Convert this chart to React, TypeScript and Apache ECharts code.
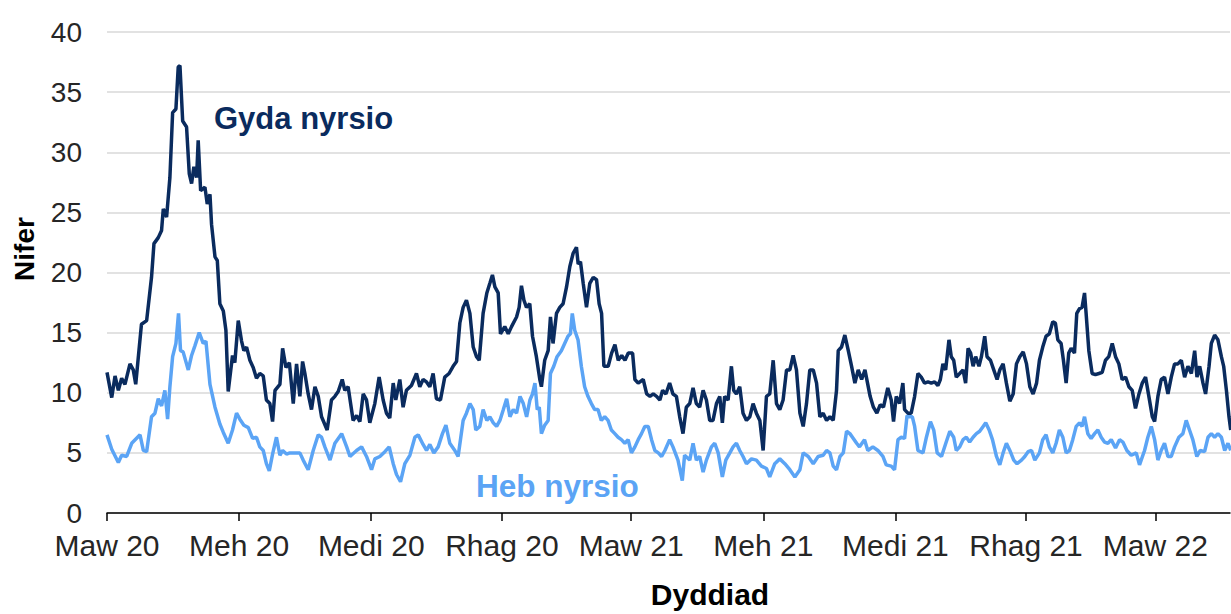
import React, { useEffect, useRef } from "react";
import * as echarts from "echarts";

// Days counted from 1 March 2020 (Maw 20)
const tickDays = [0, 92, 184, 275, 365, 457, 549, 640, 730];
const tickLabels = ["Maw 20", "Meh 20", "Medi 20", "Rhag 20", "Maw 21", "Meh 21", "Medi 21", "Rhag 21", "Maw 22"];
const yTicks = [0, 5, 10, 15, 20, 25, 30, 35, 40];

const gydaDays = [
  0, 3.3, 5.6, 7.9, 10.2, 12.5, 16, 18.3, 20, 24, 27.6, 31, 32.7, 35.7, 38, 39.2, 41.5, 43.8, 45.7, 48, 49.6, 50.8, 52.7, 55.4, 57.3, 58.9, 60.5, 62.4, 63.5, 65.2, 68.2, 69.8, 71.7, 72.8, 75.2, 76.8, 78.6, 81, 82.8, 84.4, 87.4, 89, 91.4, 93.7, 95.3, 97.2, 99.5, 101.8, 104.1, 106.4, 108.8, 111, 113.4, 115.3, 117, 120.4, 122.3, 124.6, 127,
  129.7, 132, 134.3, 136.2, 137.8, 140.1, 142.4, 144.8, 147.1, 149.4, 153.3, 156.3, 158.7, 161, 163.8, 165.6, 167.9, 171.4, 173.8, 176.1, 178.4, 180.7, 183, 186.5, 189.5, 192.3, 194.6, 196.9, 199.3, 201.1, 203.9, 206.2, 208.5, 212, 215.5, 217.8, 220.1, 222.5, 224.8, 227.1, 229.4, 232.2, 235.2, 238.2, 241, 243.4, 245.7, 248, 250.3, 252.7, 255, 257.3, 259.2,
  261.9, 264.5, 266.6, 268.4, 270.1, 272.4, 274, 277, 279.4, 281.7, 285.2, 287, 288.6, 290.3, 292.1, 294.4, 296.3, 299, 301.4, 302.5, 304.8, 307.2, 308.8, 310.6, 313, 315.3, 317.6, 320, 322.3, 324.6, 326.9, 328.1, 329.7, 331.6, 333.9, 336.2, 338.6, 340.9, 342.7, 344.4, 346, 349, 351.4, 353.7, 356, 358.4, 360.7, 363, 366, 367.6, 369.9, 373.4, 375.8, 378.1, 380.4, 382.7, 385, 386.9, 389.2,
  391.8, 394.1, 396.5, 398.8, 401.1, 403.4, 405.8, 408.1, 410.4, 412.7, 415.1, 417.4, 419.7, 422, 424.4, 426.7, 428.5, 430.1, 432.5, 434.8, 436.4, 438.3, 440.6, 442.9, 445.3, 447.6, 449.9, 452.2, 454.6, 456.9, 459.2, 461.5, 463.9, 466.2, 468.5, 470.8, 473.2, 475.5, 477.8, 480.1, 482.5, 484.8, 487.1, 489.4, 491.8, 494.1, 496.4, 498.7, 501.1, 503.4, 505.7, 508, 509.2, 511.5, 513.8, 516.2, 518.5, 520.8, 523.1, 525.5, 527.8,
  531.4, 533.7, 536.1, 538.4, 540.7, 543.7, 546.1, 547.7, 549.6, 551.9, 554.2, 555.4, 557.7, 560, 562.4, 564.7, 567, 569.3, 571.7, 574, 576.3, 578.6, 580.3, 582.1, 584, 586.3, 587.9, 589.6, 591.4, 593.8, 596.1, 597.9, 599.6, 601.4, 603.1, 604.9, 607.2, 608.9, 611.2, 612.8, 615.2, 617.5, 619.8, 621.7, 624, 626.3, 628.7, 631, 633.3, 635.6, 638, 640.3, 642.6, 644.9, 647.3,
  649.3, 651.6, 653.9, 656.2, 658.6, 660.4, 662.1, 664.4, 666, 667.9, 669.7, 671.4, 673.7, 675.3, 677.2, 679, 680.7, 681.8, 683.7, 686, 688.3, 690.7, 693, 695.3, 697.6, 700, 702.3, 704.6, 706.9, 709.3, 711.6, 713.9, 716.2, 718.6, 720.9, 723.2, 725.5, 727.9, 729.5, 731.8, 734.1, 736.4, 738.8, 741.1, 743.4, 745.7, 748.1, 750.4, 752.7, 755.1, 757.4, 759, 760.9, 763.2, 765, 767.4, 769, 771.3, 773.6, 776, 777.6, 779.5, 781.3, 782.5,
];
const gydaValues = [
  11.7, 9.6, 11.4, 10.2, 11.2, 10.7, 12.4, 11.9, 10.7, 15.7, 16.0, 19.6, 22.4, 22.9, 23.5, 25.3, 24.6, 27.9, 33.3, 33.6, 37.1, 37.2, 32.6, 32.1, 28.2, 27.4, 28.8, 27.9, 31.0, 26.8, 27.1, 25.7, 26.5, 24.0, 21.3, 21.0, 17.4, 16.8, 15.2, 10.1, 13.1, 12.5, 16.0, 14.3, 13.5, 13.8, 12.7, 12.1, 11.2, 11.6, 11.4, 9.4, 9.1, 7.6, 10.2, 10.7, 13.7, 12.1, 12.5,
  9.1, 12.4, 9.7, 12.6, 11.6, 9.9, 8.6, 10.5, 9.7, 8.0, 6.9, 9.4, 9.7, 10.1, 11.1, 10.2, 10.5, 7.7, 8.1, 7.6, 9.9, 9.4, 7.5, 9.1, 11.3, 9.4, 8.3, 7.9, 10.8, 9.4, 11.1, 8.8, 10.2, 10.6, 11.6, 10.5, 11.1, 10.9, 10.5, 11.6, 9.5, 9.4, 11.3, 11.6, 12.2, 12.6, 15.8, 17.1, 17.7, 16.6, 13.8, 13.0, 12.7,
  16.6, 18.3, 19.1, 19.8, 18.8, 18.3, 14.9, 15.5, 14.9, 15.5, 16.3, 17.1, 18.9, 17.7, 17.1, 17.4, 14.7, 13.0, 11.1, 10.5, 12.7, 13.5, 16.3, 14.1, 16.6, 17.1, 17.4, 18.8, 20.5, 21.6, 22.1, 20.7, 20.9, 19.1, 17.1, 19.1, 19.6, 19.4, 17.4, 16.6, 12.2, 12.2, 13.3, 14.0, 12.7, 13.1, 12.7, 13.3, 13.3, 11.1, 10.8, 11.1, 9.9, 9.7, 9.9, 9.7, 9.4, 10.2, 9.9,
  10.8, 9.9, 9.7, 8.0, 6.6, 8.8, 9.1, 10.4, 9.1, 8.8, 10.2, 9.4, 7.7, 7.7, 9.1, 9.7, 7.5, 9.7, 9.4, 12.2, 10.2, 9.9, 10.5, 8.3, 7.7, 8.0, 9.1, 8.3, 7.7, 5.2, 9.7, 9.9, 12.7, 9.1, 8.6, 9.4, 11.9, 11.9, 13.1, 11.9, 8.3, 7.2, 9.1, 11.9, 11.9, 10.8, 8.0, 8.3, 7.7, 8.0, 7.7, 10.2, 13.5, 13.8, 14.8, 13.5, 12.2, 10.8, 11.9, 11.1, 11.9,
  9.7, 8.8, 8.3, 9.0, 8.8, 10.4, 9.4, 7.6, 9.7, 9.1, 10.8, 8.6, 8.3, 8.3, 9.7, 11.6, 11.3, 10.8, 10.9, 10.8, 10.9, 10.6, 11.1, 12.4, 11.9, 14.4, 13.0, 12.7, 11.3, 11.6, 11.9, 10.8, 13.7, 13.3, 12.2, 13.0, 12.2, 13.0, 14.7, 13.0, 12.7, 11.9, 11.1, 11.9, 12.4, 10.8, 9.3, 9.9, 12.4, 13.0, 13.4, 12.4, 10.5, 9.9, 10.8,
  12.7, 13.8, 14.7, 14.9, 15.9, 15.8, 14.4, 14.1, 12.7, 10.8, 13.3, 13.7, 13.3, 16.6, 17.0, 17.1, 18.3, 16.6, 13.5, 11.6, 11.5, 11.6, 11.7, 12.7, 13.0, 14.1, 13.0, 12.4, 11.1, 11.3, 10.5, 10.2, 8.7, 9.9, 10.8, 11.3, 9.7, 8.0, 7.6, 9.7, 11.1, 11.3, 9.9, 11.3, 12.4, 12.4, 12.7, 11.3, 12.2, 11.6, 13.5, 11.3, 12.2, 10.8, 9.9, 12.2, 14.1, 14.8, 14.4, 13.0, 12.2, 10.2, 8.0, 6.9,
];

const hebDays = [
  0, 3.3, 7.9, 10.2, 13.7, 17.2, 23, 25.3, 27.6, 31, 33.4, 35.7, 38, 40.3, 42.2, 43.8, 45.7, 48, 49.8, 51.2, 53, 56.6, 58.9, 61.2, 64.2, 67, 68.9, 71.7, 75.2, 78.6, 81, 84.4, 87.4, 90.2, 92.5, 95.3, 98.4, 101.4, 104.1, 106.4, 108.8, 111, 113, 115.3, 118, 120.4, 122.3, 125,
  127.3, 134.3, 136.6, 140.1, 143.6, 147.1, 149.4, 151.7, 155.3, 158.7, 163.4, 166.9, 169.2, 173.8, 177.3, 180.7, 184.2, 186.5, 190, 193.5, 196.5, 199.3, 201.6, 204.4, 207.4, 210.9, 214.4, 216.7, 220.1, 222.5, 224.8, 227.6, 230.6, 233.6, 236, 238.7, 242.2, 244.5, 248, 250.3, 252.7, 255, 256.8,
  259.6, 261.9, 264.5, 266.6, 269, 271.3, 273.6, 276, 278.3, 280.6, 282.9, 285.2, 287.6, 289.9, 292.2, 294.5, 296.3, 298, 299.6, 301, 302.5, 304.8, 307.2, 308.8, 311.1, 313.4, 316.4, 318.7, 321, 322.7, 324, 325.7, 328, 330.3, 332.6, 334.9, 337.3, 339.6, 341.9, 344.2, 346.6, 348.9, 351.2, 353.6, 355.9, 358.2, 360.6, 362.9, 365.2, 367.6, 369.9, 372.2, 374.5, 376.9, 379.2, 381.5, 383.9, 386.2, 388.5,
  391.8, 394.1, 397.6, 400.6, 402.2, 405.8, 408.1, 410.4, 412.7, 415.1, 417.4, 420.9, 423.2, 425.6, 428.5, 430.9, 433.7, 436, 438.3, 440.6, 442.9, 445.3, 448.8, 452.2, 455.7, 459.2, 461.5, 465, 468.5, 472, 475.5, 479, 482.5, 484.8, 488.3, 491.8, 495.2, 498.7, 501.1, 503.4, 505.7, 508, 510.4, 512.7, 515, 517.3, 519.7, 522,
  524, 527.5, 529.8, 533.3, 536.8, 540.3, 542.6, 546.1, 548.4, 550.8, 553.1, 555.4, 557.1, 559, 560.8, 562.4, 564.7, 568.2, 570.6, 573.4, 575.7, 578.1, 581.1, 584.1, 586.9, 589.6, 591.4, 593.8, 596.1, 598.4, 600.7, 603.1, 605.4, 607.7, 610.1, 611.9, 614.3, 616.6, 619.4, 621.7, 624, 626.3, 628.7, 631.4, 633.7, 636.8, 639.1, 641.4, 643.8, 646.1,
  649.3, 651.6, 653.9, 656.2, 658.6, 660.9, 663.2, 665.6, 667.9, 670.2, 672.5, 674.9, 677.2, 679, 680.7, 683, 685.3, 687.7, 690, 692.3, 694.6, 697, 699.3, 702.3, 705.1, 707.4, 710.2, 713.2, 716.7, 719, 722.5, 724.8, 727.2, 729.5, 731.8, 734.1, 736.4, 738.8, 741.1, 743.4, 746.4, 749.2, 751.5, 753.8, 756.1, 758.9, 761.3, 764.3, 766.7, 769, 771.3, 773.6, 776, 778.3, 780.6, 782.5,
];
const hebValues = [
  6.5, 5.3, 4.2, 4.8, 4.7, 5.8, 6.5, 5.2, 5.1, 8.0, 8.3, 9.5, 8.9, 10.2, 7.8, 10.5, 13.0, 14.1, 16.6, 13.5, 13.4, 11.9, 13.1, 13.9, 15.0, 14.1, 14.3, 10.7, 8.8, 7.4, 6.7, 5.8, 6.9, 8.3, 7.8, 7.3, 7.1, 6.2, 6.3, 5.5, 5.2, 4.1, 3.5, 4.9, 6.3, 4.8, 5.2, 4.9,
  5.0, 5.0, 4.4, 3.6, 5.2, 6.5, 6.3, 5.5, 4.4, 5.8, 6.6, 5.5, 4.7, 5.2, 5.5, 4.7, 3.6, 4.5, 4.7, 5.1, 5.5, 4.1, 3.2, 2.6, 4.1, 4.8, 6.3, 6.5, 5.7, 5.2, 5.7, 5.0, 5.5, 6.6, 7.3, 5.8, 5.2, 4.7, 7.7, 8.3, 9.1, 8.6, 6.9,
  7.2, 8.6, 7.7, 8.0, 7.5, 7.2, 7.7, 8.6, 9.5, 8.0, 8.6, 8.3, 9.7, 9.1, 8.0, 9.4, 9.9, 10.8, 8.6, 8.8, 6.6, 7.3, 7.7, 11.6, 12.2, 13.0, 13.5, 14.1, 14.7, 14.9, 16.6, 15.2, 14.4, 12.2, 10.5, 9.7, 9.1, 8.6, 8.6, 7.7, 8.0, 7.7, 6.9, 6.6, 6.3, 6.1, 5.8, 6.1, 5.0, 5.5, 6.1, 6.6, 7.2, 7.2, 6.1, 5.2, 5.0, 4.7, 5.2,
  6.1, 5.5, 4.4, 2.7, 4.8, 4.4, 5.8, 4.4, 4.7, 3.4, 4.4, 5.5, 5.8, 5.0, 3.0, 4.4, 5.0, 5.5, 5.8, 5.2, 4.7, 4.1, 4.5, 4.4, 3.9, 3.7, 3.0, 4.1, 4.5, 4.1, 3.6, 3.0, 3.6, 5.0, 4.7, 4.1, 4.7, 4.8, 5.2, 5.0, 3.9, 3.6, 4.7, 5.0, 6.8, 6.6, 6.2, 5.8,
  5.5, 6.1, 5.2, 5.5, 5.2, 4.7, 4.0, 3.9, 3.6, 6.1, 6.3, 6.2, 8.1, 8.0, 8.0, 7.2, 5.2, 5.0, 6.3, 7.6, 6.9, 5.0, 4.7, 5.8, 6.8, 6.3, 5.2, 5.5, 6.1, 6.3, 5.9, 6.3, 6.6, 6.8, 7.2, 7.5, 6.9, 6.1, 4.7, 4.0, 5.0, 5.8, 5.2, 4.4, 4.1, 4.4, 4.7, 5.1, 5.2, 4.4,
  5.0, 6.1, 6.5, 5.5, 5.0, 5.8, 6.9, 6.3, 5.0, 5.2, 6.1, 7.2, 7.5, 7.2, 8.0, 6.6, 6.2, 6.6, 6.9, 6.3, 5.9, 5.8, 6.1, 5.4, 6.1, 5.9, 5.2, 4.8, 5.0, 4.0, 5.2, 6.3, 7.2, 6.1, 4.4, 5.2, 5.8, 4.7, 4.7, 5.5, 6.3, 6.6, 7.7, 6.9, 6.1, 4.7, 5.2, 5.1, 6.3, 6.6, 6.3, 6.6, 6.3, 5.2, 5.8, 5.2,
];

const DARK = "#0a2b5e";
const LIGHT = "#5ba4f5";
const FONT = "'Liberation Sans', Arial, sans-serif";

export default function App() {
  const ref = useRef<HTMLDivElement>(null);

  useEffect(() => {
    document.body.style.margin = "0";
    const chart = echarts.init(ref.current!, null, { renderer: "svg" });
    const gydaData = gydaDays.map((d, i) => [d, gydaValues[i]]);
    const hebData = hebDays.map((d, i) => [d, hebValues[i]]);

    chart.setOption({
      animation: false,
      backgroundColor: "#ffffff",
      grid: { left: 107, right: 1, top: 32, bottom: 101, outerBoundsMode: "none" },
      xAxis: {
        type: "value",
        min: 0,
        max: 782,
        axisLine: { show: true, lineStyle: { color: "#000000", width: 1.5 } },
        axisTick: {
          show: true,
          length: 8,
          customValues: tickDays,
          lineStyle: { color: "#000000", width: 1.5 },
        },
        axisLabel: {
          customValues: tickDays,
          margin: 17,
          fontSize: 30,
          fontFamily: FONT,
          color: "#262626",
          formatter: (v: number) => {
            const i = tickDays.indexOf(Math.round(v));
            return i >= 0 ? tickLabels[i] : "";
          },
        },
        splitLine: { show: false },
      },
      yAxis: {
        type: "value",
        min: 0,
        max: 40,
        interval: 5,
        axisLine: { show: false },
        axisTick: { show: false },
        axisLabel: {
          margin: 25,
          fontSize: 28,
          fontFamily: FONT,
          color: "#262626",
          formatter: (v: number) => (yTicks.includes(v) ? String(v) : ""),
        },
        splitLine: { show: true, lineStyle: { color: "#d9d9d9", width: 1.5 } },
      },
      series: [
        {
          name: "Heb nyrsio",
          type: "line",
          data: hebData,
          showSymbol: false,
          lineStyle: { color: LIGHT, width: 3.5 },
          itemStyle: { color: LIGHT },
        },
        {
          name: "Gyda nyrsio",
          type: "line",
          data: gydaData,
          showSymbol: false,
          lineStyle: { color: DARK, width: 3.5 },
          itemStyle: { color: DARK },
        },
      ],
      graphic: [
        {
          type: "text",
          x: 214,
          y: 118,
          style: {
            text: "Gyda nyrsio",
            font: `bold 31px ${FONT}`,
            fill: DARK,
            textAlign: "left",
            textVerticalAlign: "middle",
          },
        },
        {
          type: "text",
          x: 476,
          y: 486,
          style: {
            text: "Heb nyrsio",
            font: `bold 31.5px ${FONT}`,
            fill: LIGHT,
            textAlign: "left",
            textVerticalAlign: "middle",
          },
        },
        {
          type: "text",
          x: 24,
          y: 249,
          rotation: Math.PI / 2,
          style: {
            text: "Nifer",
            font: `bold 28px ${FONT}`,
            fill: "#000000",
            textAlign: "center",
            textVerticalAlign: "middle",
          },
        },
        {
          type: "text",
          x: 710,
          y: 594,
          style: {
            text: "Dyddiad",
            font: `bold 30px ${FONT}`,
            fill: "#000000",
            textAlign: "center",
            textVerticalAlign: "middle",
          },
        },
      ],
    });

    return () => chart.dispose();
  }, []);

  return <div ref={ref} style={{ width: 1231, height: 614 }} />;
}
